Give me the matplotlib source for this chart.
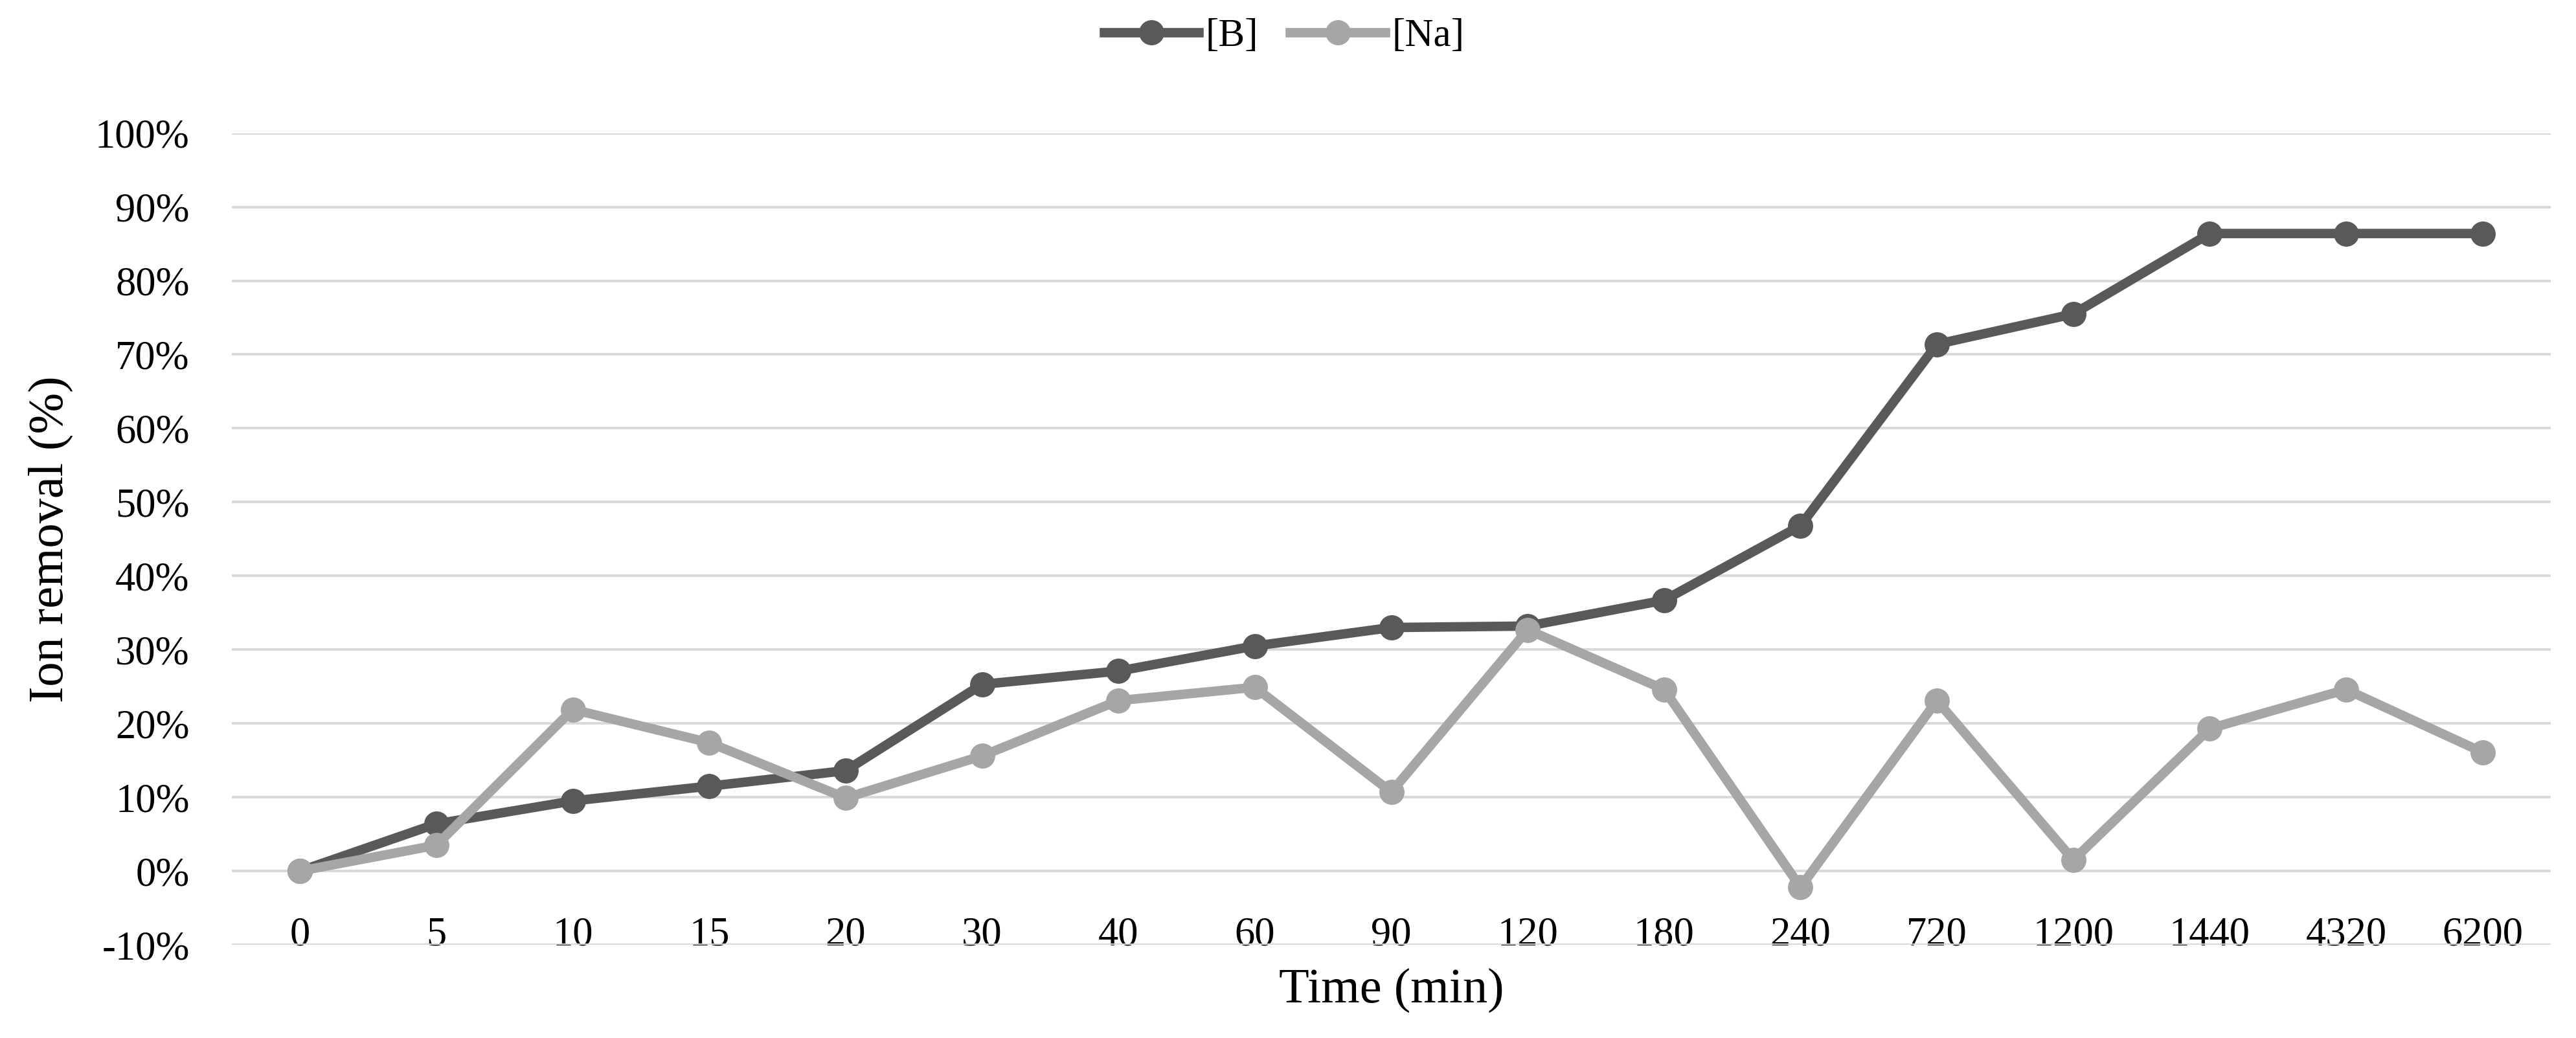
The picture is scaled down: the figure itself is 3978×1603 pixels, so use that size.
import matplotlib
matplotlib.use('Agg')
import matplotlib.pyplot as plt
from matplotlib.ticker import PercentFormatter
import numpy as np

plt.rcParams['font.family'] = ['Liberation Serif', 'DejaVu Serif']
plt.rcParams['axes.unicode_minus'] = False

# time points (min) - treated as categories
times = ['0', '5', '10', '15', '20', '30', '40', '60', '90', '120',
         '180', '240', '720', '1200', '1440', '4320', '6200']

# ion removal fractions
boron = [0.0, 0.064, 0.095, 0.115, 0.136, 0.253, 0.271, 0.305, 0.330, 0.332,
         0.367, 0.468, 0.714, 0.755, 0.864, 0.864, 0.864]
sodium = [0.0, 0.035, 0.219, 0.174, 0.099, 0.156, 0.231, 0.249, 0.107, 0.327,
          0.246, -0.022, 0.231, 0.015, 0.193, 0.246, 0.161]

c_b = '#595959'
c_na = '#a6a6a6'

fig = plt.figure(figsize=(39.78, 16.03), dpi=100)
ax = fig.add_axes([0.0900, 0.0898, 0.9002, 0.7819])

x = np.arange(len(times))
ax.plot(x, boron, color=c_b, lw=10.5, marker='o', ms=27, label='[B]', zorder=3)
ax.plot(x, sodium, color=c_na, lw=10.5, marker='o', ms=27, label='[Na]', zorder=4)

ax.set_xlim(-0.5, len(times) - 0.5)
ax.set_ylim(-0.1, 1.0)
ax.set_yticks(np.arange(-0.1, 1.001, 0.1))
ax.yaxis.set_major_formatter(PercentFormatter(1.0, decimals=0))
ax.grid(axis='y', color='#d9d9d9', lw=2.8)
ax.set_axisbelow(True)
for s in ax.spines.values():
    s.set_visible(False)

ax.set_xticks(x, times)
ax.tick_params(axis='x', length=0, pad=0, labelsize=45)
for lbl in ax.get_xticklabels():
    lbl.set_verticalalignment('baseline')
ax.tick_params(axis='y', length=0, pad=47, labelsize=45)

ax.set_xlabel('Time (min)', fontsize=55, va='center')
ax.xaxis.set_label_coords(0.5, -0.056)
ax.set_ylabel('Ion removal (%)', fontsize=55, va='center')
ax.yaxis.set_label_coords(-0.078, 0.5)

fig.legend(loc='center', bbox_to_anchor=(0.4985, 0.965), ncol=2, frameon=False,
           fontsize=44, handlelength=2.4, handletextpad=0.17, columnspacing=0.8)

fig.savefig('out.png', dpi=100)
